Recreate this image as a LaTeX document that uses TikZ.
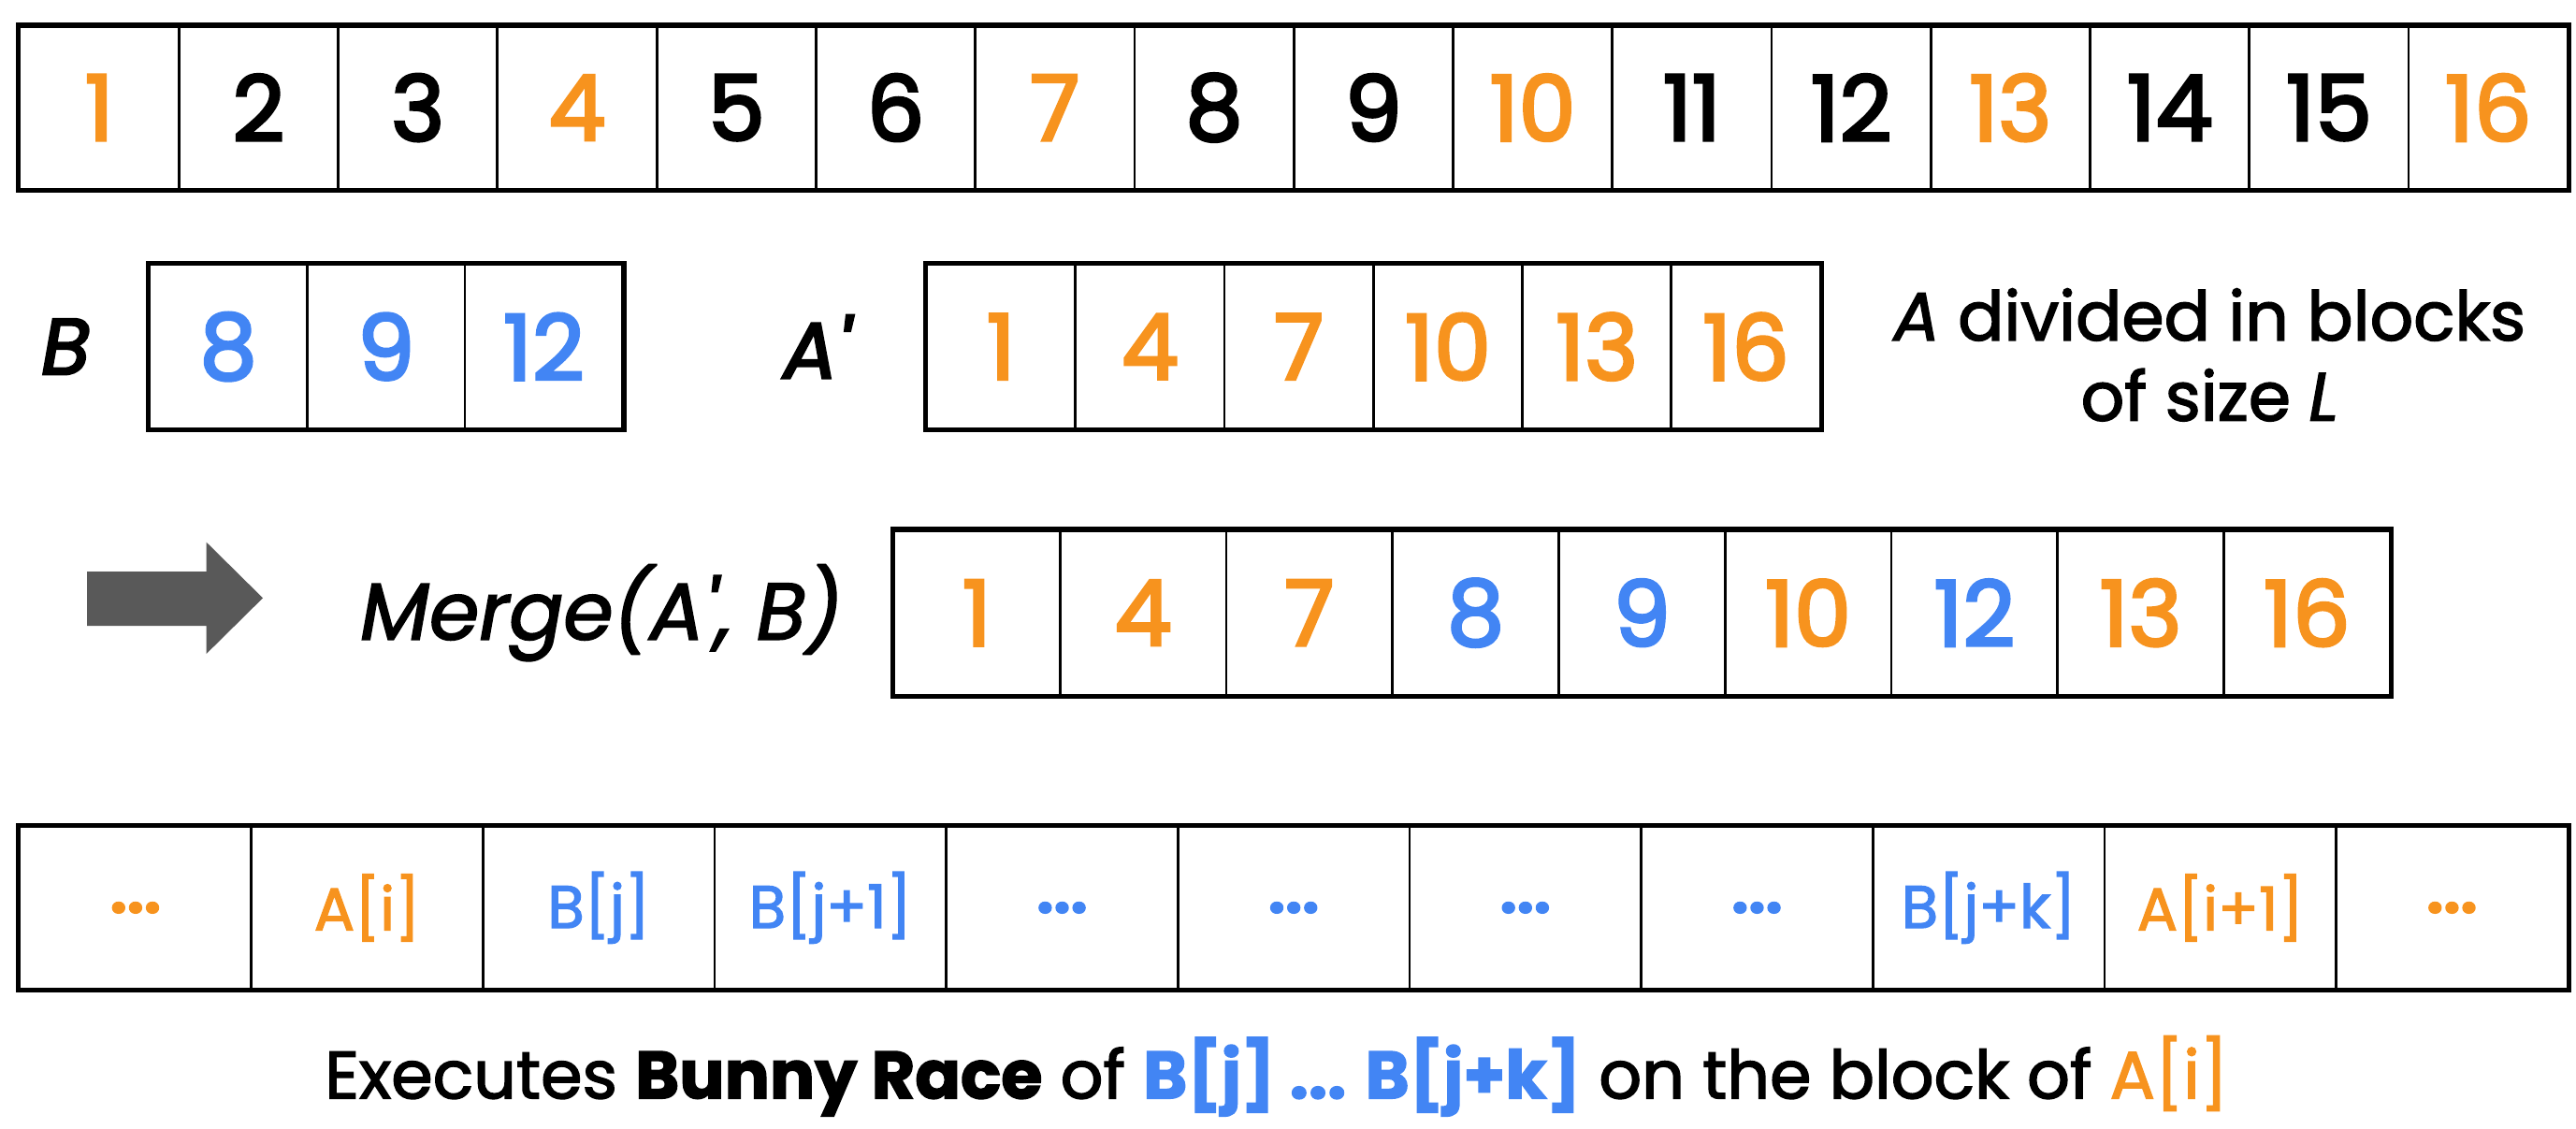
\documentclass[tikz,border=0pt]{standalone}
\usepackage{fontspec}
\setmainfont{Poppins}
\newfontfamily\medf{Poppins}[FakeBold=2]
\newfontfamily\sbf{Poppins}[FakeBold=3.2]
\definecolor{org}{HTML}{F7931E}
\definecolor{blu}{HTML}{4285F4}
\definecolor{arr}{HTML}{595959}
\begin{document}
\begin{tikzpicture}[x=0.01cm,y=-0.01cm,
  cell/.style={draw=black,line width=0.45pt,inner sep=0pt},
  digit/.style={font=\sbf\fontsize{15.7}{18}\selectfont},
  small/.style={font=\medf\fontsize{10.4}{12}\selectfont},
  frame/.style={draw=black,line width=0.8pt}]
\useasboundingbox (0,0) rectangle (1568,687);
% top row
\foreach \v [count=\i] in {1,...,16} {
  \pgfmathsetmacro\cx{12+96.94*(\i-0.5)}
  \pgfmathtruncatemacro\mm{mod(\v-1,3)}
  \ifnum\mm=0 \def\clr{org}\else\def\clr{black}\fi
  \node[cell,digit,minimum width=96.94*0.01cm,minimum height=99*0.01cm,text=\clr] (t\i) at (\cx,65.5) {\v};
}
\draw[frame] (t1.north west) rectangle (t16.south east);
% B array
\node[font=\sbf\itshape\fontsize{13.7}{16}\selectfont] (lb) at (40,211) {B};
\foreach \v [count=\i] in {8,9,12} {
  \pgfmathsetmacro\cx{91+96*(\i-0.5)}
  \node[cell,digit,minimum width=96*0.01cm,minimum height=100*0.01cm,text=blu] (b\i) at (\cx,211) {\v};
}
\draw[frame] (b1.north west) rectangle (b3.south east);
% A' array
\node[font=\sbf\itshape\fontsize{13.7}{16}\selectfont] (la) at (497,211) {A\char"27};
\foreach \v [count=\i] in {1,4,7,10,13,16} {
  \pgfmathsetmacro\cx{564+90.67*(\i-0.5)}
  \node[cell,digit,minimum width=90.67*0.01cm,minimum height=100*0.01cm,text=org] (a\i) at (\cx,211) {\v};
}
\draw[frame] (a1.north west) rectangle (a6.south east);
\node[align=center,font=\medf\fontsize{11.8}{13.9}\selectfont] (desc) at (1345,216) {\textit{A} divided in blocks\\of size \textit{L}};
% arrow
\fill[arr] (53,348) -- (125.6,348) -- (125.6,330) -- (160,364) -- (125.6,398) -- (125.6,381) -- (53,381) -- cycle;
\node[font=\medf\itshape\fontsize{13.9}{16}\selectfont] (mg) at (366,373) {Merge(A\char"27, B)};
% merge array
\foreach \v/\clr [count=\i] in {1/org,4/org,7/org,8/blu,9/blu,10/org,12/blu,13/org,16/org} {
  \pgfmathsetmacro\cx{544+101.2*(\i-0.5)}
  \node[cell,digit,minimum width=101.2*0.01cm,minimum height=100*0.01cm,text=\clr] (m\i) at (\cx,373) {\v};
}
\draw[frame] (m1.north west) rectangle (m9.south east);
% bottom row
\foreach \v/\clr [count=\i] in {{\textbf{...}}/org,{A[i]}/org,{B[j]}/blu,{B[j+1]}/blu,{\textbf{...}}/blu,{\textbf{...}}/blu,{\textbf{...}}/blu,{\textbf{...}}/blu,{B[j+k]}/blu,{A[i+1]}/org,{\textbf{...}}/org} {
  \pgfmathsetmacro\cx{12+141*(\i-0.5)}
  \node[cell,small,minimum width=141*0.01cm,minimum height=99*0.01cm,text=\clr] (r\i) at (\cx,552.5) {\v};
}
\draw[frame] (r1.north west) rectangle (r11.south east);
\node[font=\medf\fontsize{11.6}{13}\selectfont] (cap) at (777,655) {Executes \textbf{Bunny Race} of \textcolor{blu}{\textbf{B[j] ... B[j+k]}} on the block of \textcolor{org}{A[i]}};
\end{tikzpicture}
\end{document}
